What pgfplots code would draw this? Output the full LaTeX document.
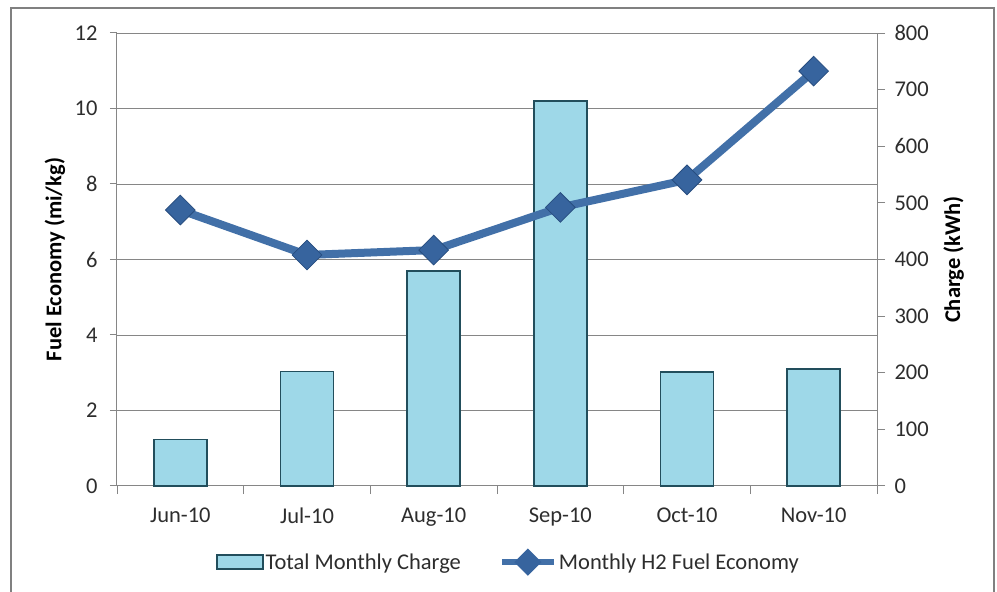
\documentclass[border=0pt]{standalone}
\usepackage{pgfplots}
\pgfplotsset{compat=1.18}
\usepackage{fontspec}
\setmainfont{Carlito}
\definecolor{barfill}{RGB}{158,216,232}
\definecolor{baredge}{RGB}{34,78,92}
\definecolor{linec}{RGB}{66,112,168}
\definecolor{markc}{RGB}{55,100,158}
\definecolor{markedge}{RGB}{40,78,128}
\definecolor{gridc}{RGB}{134,134,134}
\definecolor{framec}{RGB}{128,128,128}
\definecolor{textc}{RGB}{45,45,45}
\newcommand{\tfont}{\fontsize{22.5}{26}\selectfont}
\begin{document}
\begin{tikzpicture}[x=1pt,y=1pt]
\useasboundingbox (0,0) rectangle (997,592);
\draw[framec, line width=2pt] (11,-20) -- (11,584) -- (994,584) -- (994,-20);
% ---- bars on right axis (Charge, kWh) ----
\begin{axis}[
  at={(117pt,106pt)}, anchor=south west,
  scale only axis, width=760pt, height=453pt,
  xmin=-0.5, xmax=5.5, ymin=0, ymax=800,
  axis y line*=right, axis x line*=bottom,
  axis line style={gridc, line width=1pt},
  tick align=outside,
  xtick={0,1,2,3,4,5},
  xticklabels={Jun-10,Jul-10,Aug-10,Sep-10,Oct-10,Nov-10},
  major x tick style={draw=none},
  minor xtick={-0.5,0.5,1.5,2.5,3.5,4.5,5.5},
  minor x tick style={gridc, line width=1pt},
  minor tick length=8pt,
  ytick={0,100,...,800},
  major y tick style={gridc, line width=1pt},
  major tick length=8pt,
  extra y ticks={133.333,266.667,400,533.333,666.667,800},
  extra y tick labels={},
  extra y tick style={grid=major, major tick length=0pt},
  grid style={gridc, line width=1pt},
  tick label style={font=\tfont, text=textc},
  /pgf/number format/assume math mode=true,
  xticklabel style={yshift=-10pt},
  yticklabel style={xshift=6pt},
  ylabel={\bfseries Charge (kWh)},
  ylabel style={font=\tfont, text=black, at={(axis description cs:1.101,0.5)}, anchor=center, rotate=0},
  clip=false,
]
\addplot[ybar, bar width=53pt, fill=barfill, draw=baredge, line width=1.6pt]
  coordinates {(0,82) (1,202) (2,380) (3,680) (4,201) (5,207)};
\end{axis}
% ---- line on left axis (Fuel economy) ----
\begin{axis}[
  at={(117pt,106pt)}, anchor=south west,
  scale only axis, width=760pt, height=453pt,
  xmin=-0.5, xmax=5.5, ymin=0, ymax=12,
  axis y line*=left, axis x line=none,
  axis line style={gridc, line width=1pt},
  tick align=outside,
  ytick={0,2,...,12},
  major y tick style={gridc, line width=1pt},
  major tick length=7pt,
  tick label style={font=\tfont, text=textc},
  /pgf/number format/assume math mode=true,
  yticklabel style={xshift=-9pt},
  ylabel={\bfseries Fuel Economy (mi/kg)},
  ylabel style={font=\tfont, text=black, at={(axis description cs:-0.0816,0.5)}, anchor=center},
  clip=false,
  legend style={at={(axis description cs:0.515,-0.168)}, anchor=center, draw=none, fill=none,
    font=\tfont, text=textc, legend columns=2,
    /tikz/every even column/.append style={column sep=36pt},
    nodes={inner xsep=2pt}},
]
\addlegendimage{legend image code/.code={
  \draw[fill=barfill, draw=baredge, line width=1.6pt] (0pt,-7pt) rectangle (46pt,7pt);}}
\addlegendentry{Total Monthly Charge}
\addplot[linec, line width=8pt, mark=square*, mark size=10.5pt,
  mark options={rotate=45, fill=markc, draw=markedge, line width=0.8pt},
  legend image code/.code={
   \draw[linec, line width=6pt] (0pt,0pt) -- (52pt,0pt);
   \fill[markc] (26pt,-8pt) -- (34pt,0pt) -- (26pt,8pt) -- (18pt,0pt) -- cycle;}]
  coordinates {(0,7.31) (1,6.12) (2,6.25) (3,7.38) (4,8.11) (5,10.99)};
\addlegendentry{Monthly H2 Fuel Economy}
\end{axis}
\end{tikzpicture}
\end{document}
